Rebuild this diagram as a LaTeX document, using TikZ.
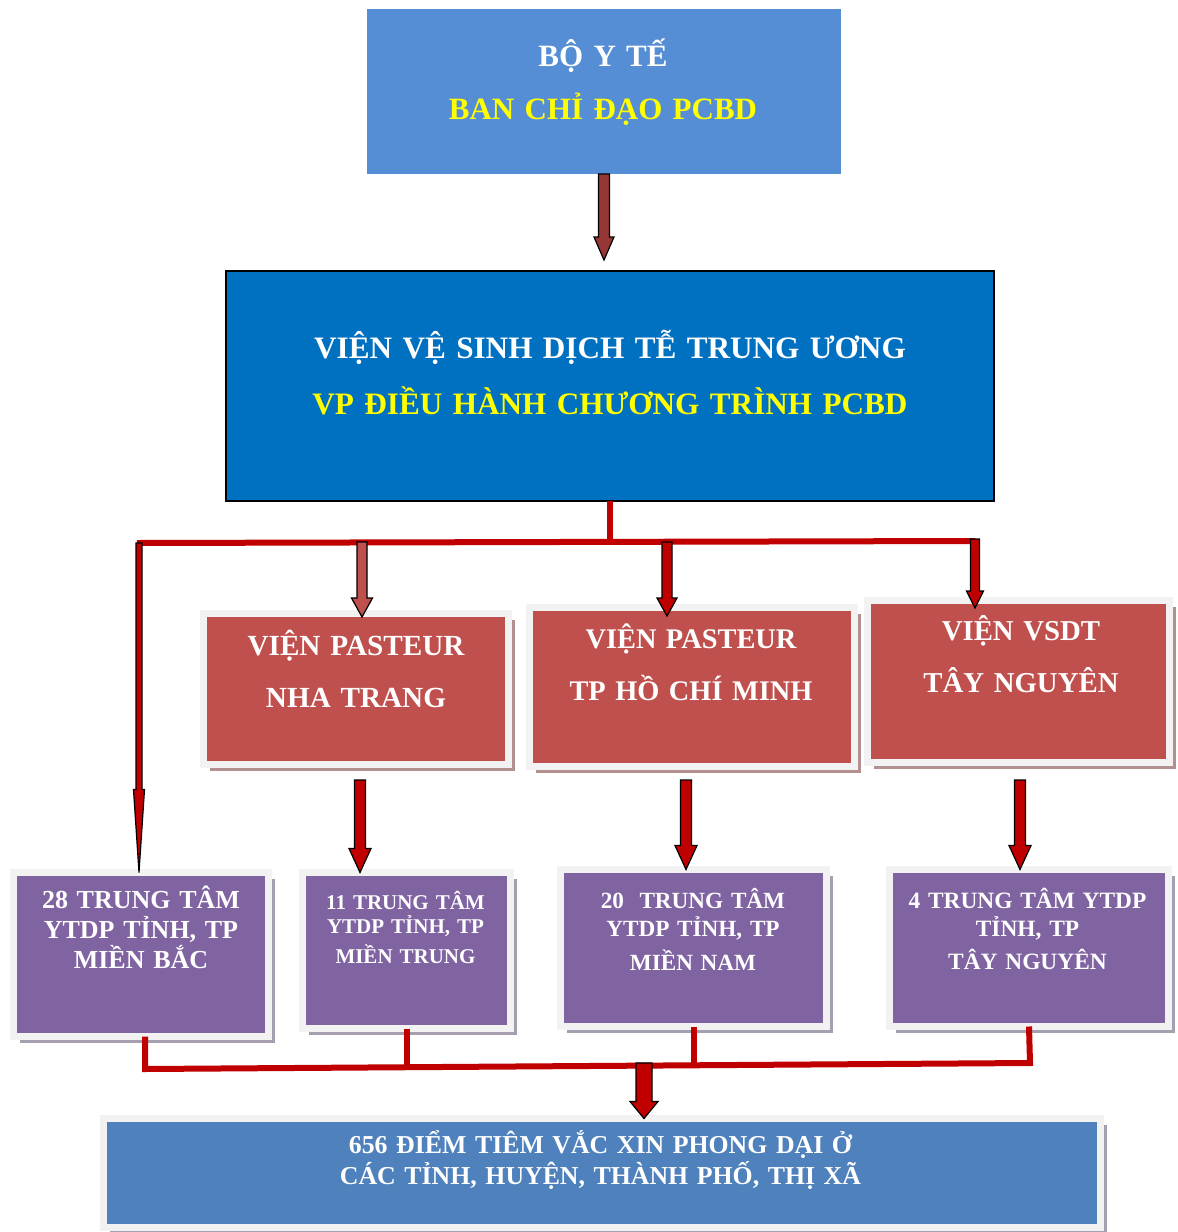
\documentclass[tikz,border=0pt]{standalone}
\usepackage{fontspec}
\setmainfont{Liberation Serif}
\usetikzlibrary{calc,shadows}
\definecolor{topblue}{HTML}{558ED5}
\definecolor{midblue}{HTML}{0070C0}
\definecolor{lowblue}{HTML}{4F81BD}
\definecolor{brick}{HTML}{C0504D}
\definecolor{ytdpviolet}{HTML}{8064A2}
\definecolor{darkred}{HTML}{C00000}
\definecolor{rust}{HTML}{953735}
\definecolor{framegray}{HTML}{F2F2F2}
\definecolor{redshade}{HTML}{B39090}
\definecolor{violetshade}{HTML}{A59FB0}
\definecolor{vyellow}{HTML}{FFFF00}
\tikzstyle{plainbox}=[inner sep=0pt,outer sep=0pt]
\tikzstyle{redbox}=[plainbox,fill=brick,draw=framegray,line width=3.5pt,drop shadow={shadow xshift=3.3pt,shadow yshift=-3.3pt,fill=redshade,opacity=1}]
\tikzstyle{violetbox}=[plainbox,fill=ytdpviolet,draw=framegray,line width=3.5pt,drop shadow={shadow xshift=3.3pt,shadow yshift=-3.3pt,fill=violetshade,opacity=1}]
\tikzstyle{bus}=[darkred,line width=3pt]
\tikzstyle{arrowline}=[draw=black,line width=0.6pt,line join=miter]
\tikzstyle{boxtext}=[inner sep=0pt,align=center,anchor=base,text=white]
% block arrow: start, end, fill, shaft half width, head half width, head length (px)
\newcommand{\blockarr}[6]{%
  \draw[arrowline,fill=#3] let \p1=(#1), \p2=(#2) in
    ({\x1-#4*0.5pt},\y1) -- ({\x1+#4*0.5pt},\y1) -- ({\x1+#4*0.5pt},{\y2+#6*0.5pt})
    -- ({\x1+#5*0.5pt},{\y2+#6*0.5pt}) -- (\x1,\y2) -- ({\x1-#5*0.5pt},{\y2+#6*0.5pt})
    -- ({\x1-#4*0.5pt},{\y2+#6*0.5pt}) -- cycle;}
\begin{document}
\begin{tikzpicture}[x=0.5pt,y=-0.5pt,font=\bfseries]
	\useasboundingbox (0,0) rectangle (1178,1232);
	% boxes
	\node[plainbox,fill=topblue,minimum width=237pt,minimum height=82.5pt] (boyte) at (604,91.5) {};
	\node[plainbox,fill=midblue,draw=black,line width=1pt,minimum width=384pt,minimum height=115pt] (vien) at (610,386) {};
	\node[redbox,minimum width=152.5pt,minimum height=75.5pt] (nhatrang) at (356,689) {};
	\node[redbox,minimum width=162.5pt,minimum height=79.5pt] (hcm) at (692,687) {};
	\node[redbox,minimum width=151pt,minimum height=81pt] (taynguyen) at (1018.5,681.5) {};
	\node[violetbox,minimum width=127.5pt,minimum height=82pt] (bac) at (141,954.5) {};
	\node[violetbox,minimum width=104pt,minimum height=78pt] (trung) at (406.5,950.5) {};
	\node[violetbox,minimum width=133pt,minimum height=78.5pt] (nam) at (693.5,948) {};
	\node[violetbox,minimum width=139.5pt,minimum height=78.5pt] (tnp) at (1029,948) {};
	\node[plainbox,fill=lowblue,draw=framegray,line width=3.5pt,drop shadow={shadow xshift=3.3pt,shadow yshift=-3.3pt,fill=violetshade,opacity=1},minimum width=498.5pt,minimum height=54.5pt] (diem) at (602,1173) {};

	% red lines
	\coordinate (busL) at (137,543);
	\coordinate (busR) at (975,541);
	\draw[bus] (vien.south) -- (vien.south |- busR);
	\draw[bus] (busL) -- (busR);
	\coordinate (bbL) at (145,1069);
	\coordinate (bbR) at (1030,1063);
	\draw[bus] ([xshift=2pt]bac.south) -- (bbL) -- (bbR) -- (tnp.south);
	\draw[bus] (trung.south) -- (trung.south |- bbL);
	\draw[bus] (nam.south) -- (nam.south |- bbR);

	% arrows
	\blockarr{boyte.south}{[yshift=5.5pt]vien.north}{rust}{5.5}{10}{23}
	\coordinate (d1) at (139,543);
	\coordinate (d2) at (362,542);
	\coordinate (d3) at (667,542);
	\coordinate (d4) at (975,539);
	\blockarr{d1}{bac.north}{darkred}{3}{5.5}{83}
	\blockarr{d2}{[yshift=-1.75pt]nhatrang.north}{brick}{5}{10.5}{19}
	\blockarr{d3}{[yshift=-4.25pt]hcm.north}{darkred}{5}{10}{18}
	\blockarr{d4}{[yshift=-3.75pt]taynguyen.north}{darkred}{4.5}{8.5}{17}
	\coordinate (nt-out) at (360,780);
	\coordinate (hcm-out) at (686,780);
	\coordinate (tn-out) at (1020,780);
	\blockarr{nt-out}{trung.north}{darkred}{5.5}{11}{24}
	\blockarr{hcm-out}{nam.north}{darkred}{5.5}{11}{24}
	\blockarr{tn-out}{tnp.north}{darkred}{5.5}{11}{24}
	\coordinate (bb-mid) at (644,1063);
	\blockarr{bb-mid}{diem.north}{darkred}{8}{14}{17}

	% texts
	\node[boxtext,text width=230pt,font=\bfseries\fontsize{15.5}{26.5}\selectfont] (boyte-t) at (603,66) {BỘ Y TẾ\\ \textcolor{vyellow}{BAN CHỈ ĐẠO PCBD}};
	\node[boxtext,text width=380pt,font=\bfseries\fontsize{15.6}{28}\selectfont] (vien-t) at (610,358) {VIỆN VỆ SINH DỊCH TỄ TRUNG ƯƠNG\\ \textcolor{vyellow}{VP ĐIỀU HÀNH CHƯƠNG TRÌNH PCBD}};
	\node[boxtext,text width=148pt,font=\bfseries\fontsize{14.6}{26}\selectfont] (nhatrang-t) at (356,655) {VIỆN PASTEUR\\ NHA TRANG};
	\node[boxtext,text width=158pt,font=\bfseries\fontsize{14.2}{26}\selectfont] (hcm-t) at (691,648) {VIỆN PASTEUR\\ TP HỒ CHÍ MINH};
	\node[boxtext,text width=148pt,font=\bfseries\fontsize{14.4}{26}\selectfont] (taynguyen-t) at (1021,640) {VIỆN VSDT\\ TÂY NGUYÊN};
	\node[boxtext,text width=124pt,font=\bfseries\fontsize{13}{15}\selectfont] (bac-t) at (141,908) {28 TRUNG TÂM\\ YTDP TỈNH, TP\\ MIỀN BẮC};
	\node[boxtext,text width=100pt,font=\bfseries\fontsize{10.5}{12}\selectfont] (trung-t) at (405.5,909) {11 TRUNG TÂM\\ YTDP TỈNH, TP\\[3pt] MIỀN TRUNG};
	\node[boxtext,text width=130pt,font=\bfseries\fontsize{11.6}{14}\selectfont] (nam-t) at (693,908) {20~ TRUNG TÂM\\ YTDP TỈNH, TP\\[3pt] MIỀN NAM};
	\node[boxtext,text width=136pt,font=\bfseries\fontsize{11.7}{14}\selectfont] (tnp-t) at (1027.5,908) {4 TRUNG TÂM YTDP\\ TỈNH, TP\\[2.5pt] TÂY NGUYÊN};
	\node[boxtext,text width=490pt,font=\bfseries\fontsize{12.9}{15.5}\selectfont] (diem-t) at (600.5,1153) {656 ĐIỂM TIÊM VẮC XIN PHONG DẠI Ở\\ CÁC TỈNH, HUYỆN, THÀNH PHỐ, THỊ XÃ};
\end{tikzpicture}
\end{document}
